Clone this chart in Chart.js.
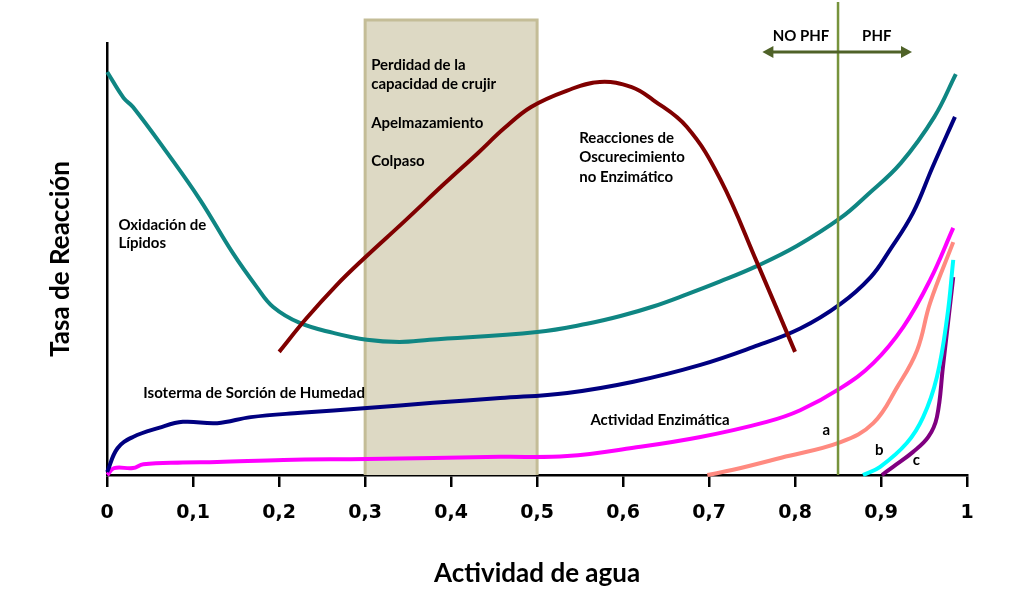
<!DOCTYPE html>
<html>
<head>
<meta charset="utf-8">
<script src="https://cdn.jsdelivr.net/npm/chart.js@4"></script>
<style>
  html, body { margin: 0; padding: 0; background: #fff; }
  #wrap { width: 1024px; height: 594px; }
</style>
</head>
<body>
<div id="wrap"><canvas id="chart" width="1024" height="594"></canvas></div>
<script>
// actividad de agua (x) y tasa relativa (y, 0-100) de cada curva
const tickLabels = ['0', '0,1', '0,2', '0,3', '0,4', '0,5', '0,6', '0,7', '0,8', '0,9', '1'];

const oscurecimientoX = [0.2, 0.231, 0.266, 0.298, 0.345, 0.392, 0.431, 0.462, 0.493, 0.535, 0.573, 0.61, 0.635, 0.674, 0.713, 0.756, 0.8];
const oscurecimientoY = [28.5, 36.1, 43.8, 50.0, 58.6, 67.4, 74.5, 80.3, 85.2, 89.0, 91.0, 89.8, 86.8, 80.6, 68.5, 49.1, 28.5];

const lipidosX = [0, 0.019, 0.03, 0.07, 0.108, 0.146, 0.174, 0.193, 0.224, 0.263, 0.302, 0.34, 0.375, 0.5, 0.558, 0.597, 0.635, 0.674, 0.713, 0.756, 0.802, 0.853, 0.885, 0.923, 0.962, 0.987];
const lipidosY = [93.3, 87.3, 85.2, 74.5, 63.7, 51.4, 43.5, 38.9, 35.2, 32.9, 31.3, 30.8, 31.3, 33.1, 35.0, 36.8, 39.0, 41.8, 44.8, 48.4, 53.0, 59.5, 65.0, 72.2, 82.9, 92.8];

const isotermaX = [0, 0.012, 0.03, 0.06, 0.088, 0.128, 0.167, 0.225, 0.302, 0.379, 0.457, 0.535, 0.612, 0.69, 0.751, 0.806, 0.853, 0.888, 0.91, 0.937, 0.96, 0.986];
const isotermaY = [0.7, 6.2, 8.8, 10.9, 12.3, 12.0, 13.4, 14.4, 15.5, 16.7, 17.8, 19.0, 21.6, 25.5, 29.6, 33.9, 39.6, 45.8, 52.0, 60.6, 71.3, 82.9];

const enzimaticaX = [0, 0.008, 0.03, 0.042, 0.088, 0.128, 0.205, 0.302, 0.457, 0.535, 0.612, 0.69, 0.767, 0.806, 0.853, 0.891, 0.926, 0.957, 0.984];
const enzimaticaY = [0, 1.6, 1.6, 2.5, 2.9, 3.0, 3.5, 3.7, 4.2, 4.4, 6.3, 8.8, 12.3, 15.0, 20.1, 25.9, 34.3, 45.1, 57.2];

const curvaAX = [0.698, 0.728, 0.784, 0.853, 0.891, 0.919, 0.942, 0.957, 0.984];
const curvaAY = [0, 1.2, 4.0, 7.6, 12.0, 20.4, 28.9, 39.8, 53.9];

const curvaBX = [0.879, 0.899, 0.93, 0.949, 0.965, 0.977, 0.984];
const curvaBY = [0, 1.9, 7.4, 13.4, 22.7, 36.6, 49.8];

const curvaCX = [0.901, 0.914, 0.937, 0.955, 0.965, 0.972, 0.984];
const curvaCY = [0, 1.9, 5.3, 8.8, 13.4, 25.0, 45.8];

const pares = (xs, ys) => xs.map((x, i) => ({ x: x, y: ys[i] }));

const linea = (data, color) => ({
  data: data,
  borderColor: color,
  borderWidth: 4,
  pointRadius: 0,
  fill: false,
  tension: 0.4,
  clip: false
});

const LABEL_FONT = 'bold 15px Lato';

// zona sombreada, linea PHF y textos
const anotaciones = {
  id: 'anotaciones',
  beforeDatasetsDraw(chart) {
    const { ctx, scales: { x, y } } = chart;
    const left = x.getPixelForValue(0.3);
    const right = x.getPixelForValue(0.5);
    const top = y.getPixelForValue(105.3);
    const bottom = y.getPixelForValue(0);
    ctx.save();
    ctx.fillStyle = '#ddd9c4';
    ctx.fillRect(left, top, right - left, bottom - top);
    ctx.strokeStyle = '#c4bd97';
    ctx.lineWidth = 3;
    ctx.beginPath();
    ctx.moveTo(left, bottom);
    ctx.lineTo(left, top);
    ctx.lineTo(right, top);
    ctx.lineTo(right, bottom);
    ctx.stroke();
    ctx.restore();
  },
  afterDatasetsDraw(chart) {
    const { ctx, scales: { x, y } } = chart;
    ctx.save();

    // linea vertical PHF
    const xv = x.getPixelForValue(0.85);
    ctx.strokeStyle = '#77933c';
    ctx.lineWidth = 2.5;
    ctx.beginPath();
    ctx.moveTo(xv, y.getPixelForValue(109.5));
    ctx.lineTo(xv, y.getPixelForValue(0));
    ctx.stroke();

    // flecha doble
    const ya = y.getPixelForValue(97.9);
    const x1 = x.getPixelForValue(0.762);
    const x2 = x.getPixelForValue(0.936);
    ctx.strokeStyle = '#4f6228';
    ctx.fillStyle = '#4f6228';
    ctx.lineWidth = 3;
    ctx.beginPath();
    ctx.moveTo(x1 + 8, ya);
    ctx.lineTo(x2 - 8, ya);
    ctx.stroke();
    ctx.beginPath();
    ctx.moveTo(x1, ya);
    ctx.lineTo(x1 + 11, ya - 6);
    ctx.lineTo(x1 + 11, ya + 6);
    ctx.closePath();
    ctx.fill();
    ctx.beginPath();
    ctx.moveTo(x2, ya);
    ctx.lineTo(x2 - 11, ya - 6);
    ctx.lineTo(x2 - 11, ya + 6);
    ctx.closePath();
    ctx.fill();

    // textos
    const textos = [
      ['Perdidad de la', 0.307, 94.9],
      ['capacidad de crujir', 0.307, 90.5],
      ['Apelmazamiento', 0.307, 81.5],
      ['Colpaso', 0.307, 72.7],
      ['Reacciones de', 0.549, 78.0],
      ['Oscurecimiento', 0.549, 73.6],
      ['no Enzimático', 0.549, 69.0],
      ['Oxidación de', 0.013, 57.9],
      ['Lípidos', 0.013, 53.7],
      ['Isoterma de Sorción de Humedad', 0.042, 19.0],
      ['Actividad Enzimática', 0.562, 12.7],
      ['a', 0.832, 10.4],
      ['b', 0.893, 5.8],
      ['c', 0.937, 3.5],
      ['NO PHF', 0.774, 101.6],
      ['PHF', 0.878, 101.6]
    ];
    ctx.fillStyle = '#000';
    ctx.font = LABEL_FONT;
    ctx.textAlign = 'left';
    ctx.textBaseline = 'middle';
    textos.forEach(([t, tx, ty]) => {
      ctx.fillText(t, x.getPixelForValue(tx), y.getPixelForValue(ty));
    });
    ctx.restore();
  }
};

new Chart(document.getElementById('chart'), {
  type: 'line',
  data: {
    datasets: [
      linea(pares(oscurecimientoX, oscurecimientoY), '#800000'),
      linea(pares(lipidosX, lipidosY), '#0f8683'),
      linea(pares(isotermaX, isotermaY), '#000080'),
      linea(pares(enzimaticaX, enzimaticaY), '#ff00ff'),
      linea(pares(curvaAX, curvaAY), '#ff8a80'),
      linea(pares(curvaBX, curvaBY), '#00ffff'),
      linea(pares(curvaCX, curvaCY), '#800080')
    ]
  },
  options: {
    responsive: false,
    animation: false,
    devicePixelRatio: 1,
    layout: { padding: { top: 43, right: 57, left: 45, bottom: 5 } },
    plugins: {
      legend: { display: false },
      tooltip: { enabled: false }
    },
    scales: {
      x: {
        type: 'linear',
        min: 0,
        max: 1,
        ticks: {
          stepSize: 0.1,
          color: '#000',
          font: { family: 'DejaVu Sans', size: 19, weight: 'bold' },
          padding: 15,
          maxRotation: 0,
          callback: (v, i) => tickLabels[i]
        },
        grid: {
          display: true,
          drawOnChartArea: false,
          drawTicks: true,
          tickLength: 12,
          color: '#000',
          lineWidth: 2.5
        },
        border: { display: true, color: '#000', width: 2.5 },
        title: {
          display: true,
          text: 'Actividad de agua',
          color: '#000',
          font: { family: 'Lato', size: 26, weight: 'bold' },
          padding: { top: 18, bottom: 0 }
        }
      },
      y: {
        min: 0,
        max: 100,
        ticks: { display: false },
        grid: { display: false, drawTicks: false },
        border: { display: true, color: '#000', width: 2.5 },
        title: {
          display: true,
          text: 'Tasa de Reacción',
          color: '#000',
          font: { family: 'Lato', size: 26, weight: 'bold' },
          padding: { top: 0, bottom: 31 }
        }
      }
    }
  },
  plugins: [anotaciones]
});
</script>
</body>
</html>
